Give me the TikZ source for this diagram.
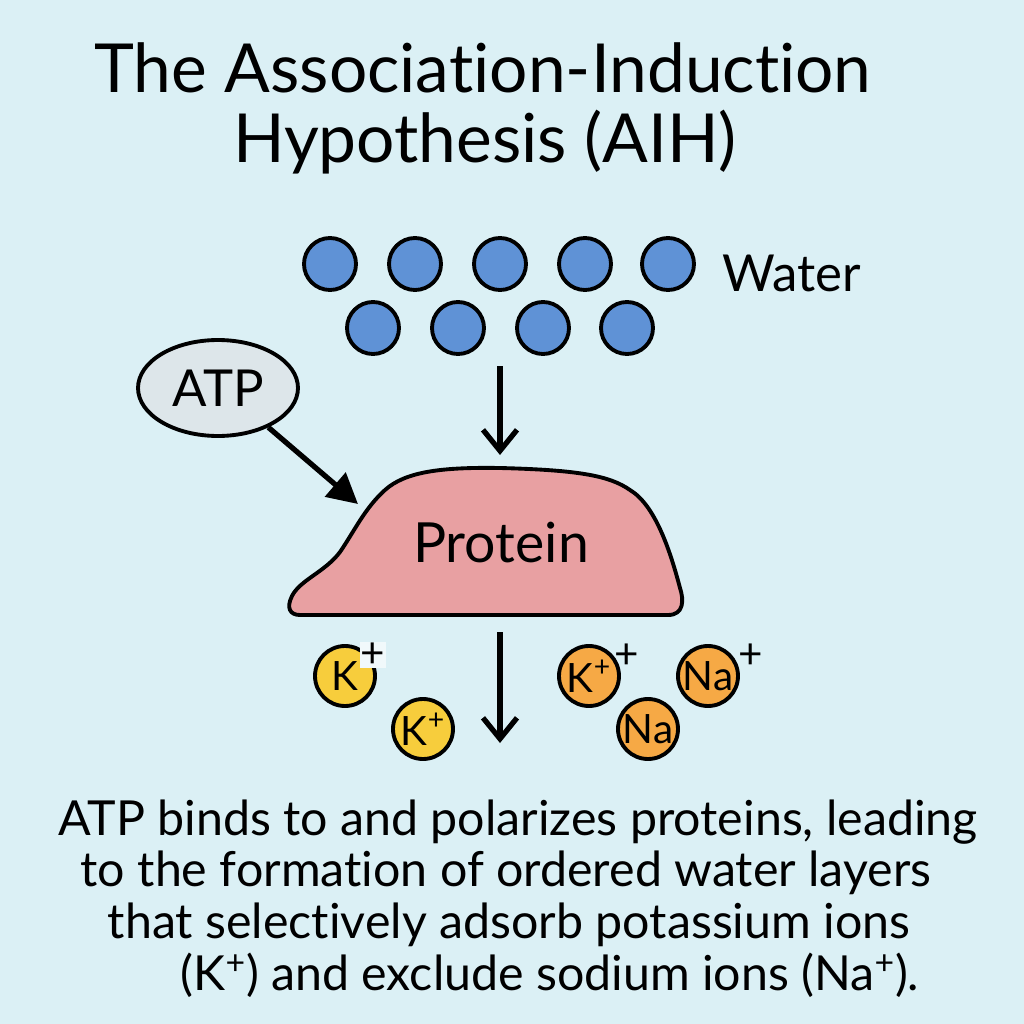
\documentclass[tikz,border=0pt]{standalone}
\usepackage{fontspec}
\setmainfont{Lato}[Ligatures=NoCommon]
\usepackage{xcolor}
\usetikzlibrary{arrows.meta,positioning,shapes.geometric}

\definecolor{bgcyan}{HTML}{DBF0F5}
\definecolor{waterblue}{HTML}{5F92D6}
\definecolor{atpgray}{HTML}{DDE6EA}
\definecolor{protpink}{HTML}{E8A0A2}
\definecolor{kyellow}{HTML}{F7CD3C}
\definecolor{naorange}{HTML}{F6A945}

\tikzset{
  water/.style={circle,draw=black,line width=2.2pt,fill=waterblue,
                minimum size=1.04cm,inner sep=0pt},
  ion/.style={circle,draw=black,line width=2.2pt,minimum size=1.2cm,
              inner sep=0pt,font=\fontsize{23}{26}\selectfont},
  charge/.style={inner sep=0.5pt,font=\fontsize{24}{26}\selectfont},
  flow/.style={line width=3.2pt,-{Straight Barb[length=0.42cm,width=0.68cm,line width=3pt]}},
  titletext/.style={anchor=base,inner sep=0pt,font=\fontsize{38.5}{42}\selectfont},
  bodytext/.style={anchor=base,inner sep=0pt,font=\fontsize{27.5}{30}\selectfont}
}

\begin{document}
\begin{tikzpicture}[x=0.02cm,y=-0.02cm]
  \useasboundingbox (0,0) rectangle (1024,1024);
  \fill[bgcyan] (0,0) rectangle (1024,1024);

  % title
  \node[titletext] (title1) at (483,92) {The Association-Induction};
  \node[titletext] (title2) at (485,162) {Hypothesis (AIH)};

  % water molecules
  \foreach \x [count=\i] in {330,415,500,585,668}
    \node[water] (wa\i) at (\x,264) {};
  \foreach \x [count=\i] in {373,458,543,627}
    \node[water] (wb\i) at (\x,328) {};
  \node[anchor=west,inner sep=0pt,font=\fontsize{29}{32}\selectfont]
       (waterlabel) at (722,273) {Water};

  % ATP
  \node[ellipse,draw=black,line width=2.2pt,fill=atpgray,
        minimum width=3.2cm,minimum height=1.92cm,
        font=\fontsize{29}{32}\selectfont] (atp) at (218,388) {ATP};

  % protein
  \draw[line width=2.2pt,fill=protpink]
    (300,615) -- (668,615)
    .. controls (684,615) and (684,600) .. (680,588)
    .. controls (670,550) and (655,505) .. (630,490)
    .. controls (610,476) and (580,470) .. (500,468)
    .. controls (440,467) and (405,472) .. (385,490)
    .. controls (365,508) and (355,530) .. (340,552)
    .. controls (325,572) and (300,580) .. (292,596)
    .. controls (286,608) and (290,615) .. (300,615) -- cycle;
  \node[font=\fontsize{31.5}{34}\selectfont] (protein) at (501,543) {Protein};

  \coordinate (watertop) at (500,366);
  \coordinate (proteintop) at (500,455);
  \coordinate (proteinleft) at (358,504);
  \coordinate (proteinbottom) at (500,632);
  \coordinate (ionzone) at (500,743);

  \draw[flow] (watertop) -- (proteintop);
  \draw[flow] (proteinbottom) -- (ionzone);
  \draw[line width=3pt,-{Triangle[length=0.6cm,width=0.62cm]}]
       (atp.-38) -- (proteinleft);

  % ions
  \node[ion,fill=kyellow] (k1) at (345,676) {K};
  \node[charge,fill=bgcyan!40!white] (k1c) at (373,655) {+};
  \node[ion,fill=kyellow] (k2) at (423,729) {K\textsuperscript{+}};
  \node[ion,fill=naorange] (k3) at (589,676) {K\textsuperscript{+}};
  \node[charge] (k3c) at (627,656) {+};
  \node[ion,fill=naorange] (na1) at (708,676) {Na};
  \node[charge] (na1c) at (751,656) {+};
  \node[ion,fill=naorange] (na2) at (648,729) {Na};

  % caption
  \node[bodytext] (cap1) at (518,835) {ATP binds to and polarizes proteins, leading};
  \node[bodytext] (cap2) at (506,886) {to the formation of ordered water layers};
  \node[bodytext] (cap3) at (509,938) {that selectively adsorb potassium ions};
  \node[bodytext] (cap4) at (550,990) {(K\textsuperscript{+}) and exclude sodium ions (Na\textsuperscript{+}).};
\end{tikzpicture}
\end{document}
